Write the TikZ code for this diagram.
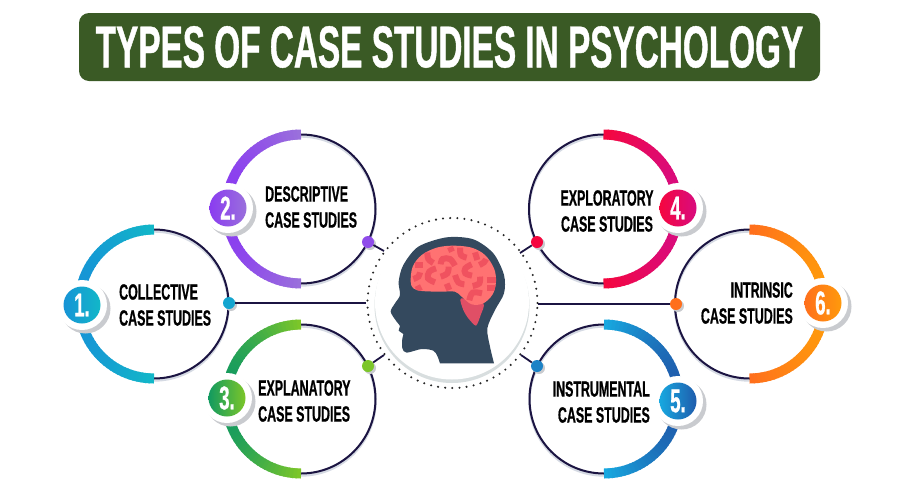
\documentclass[tikz,border=0pt]{standalone}
\usepackage{fontspec}
\newfontfamily\bebas[FakeStretch=0.565,FakeBold=0.7,UprightFont=* Bold]{Liberation Sans}
\definecolor{titlegreen}{HTML}{3A5A25}
\definecolor{ink}{HTML}{1B1442}
\definecolor{ringshadow}{HTML}{D5DAE3}
\definecolor{badgeshadow}{HTML}{C9CBCF}
\definecolor{headblue}{HTML}{34495E}
\definecolor{brainred}{HTML}{FF7272}
\definecolor{braindark}{HTML}{F0525F}
\definecolor{cerebel}{HTML}{E04F66}
\definecolor{crescent}{HTML}{D8DEDF}
\definecolor{aA}{HTML}{12B7C8}\definecolor{aB}{HTML}{1694D6}
\definecolor{bA}{HTML}{9A70DC}\definecolor{bB}{HTML}{8A3CF0}
\definecolor{cA}{HTML}{7CC629}\definecolor{cB}{HTML}{129A60}
\definecolor{dA}{HTML}{F5063F}\definecolor{dB}{HTML}{D80C7F}
\definecolor{eA}{HTML}{17A8E0}\definecolor{eB}{HTML}{1F5CAC}
\definecolor{fA}{HTML}{FF6F1C}\definecolor{fB}{HTML}{FF9A0C}
\tikzset{
  ringnode/.style={circle,draw=ink,line width=2pt,minimum size=149pt,inner sep=0pt},
  ringshade/.style={circle,draw=ringshadow,line width=2.4pt,minimum size=149pt,inner sep=0pt},
  badgenode/.style={circle,minimum size=37pt,inner sep=0pt,text=white,font=\bebas\fontsize{33}{33}\selectfont},
  dotnode/.style={circle,minimum size=12pt,inner sep=0pt},
  label/.style={inner sep=0pt,text=black,font=\bebas\fontsize{22}{26}\selectfont},
  conn/.style={draw=ink,line width=1.8pt},
  squiggle/.style={draw=braindark,line width=6pt}
}
\newcommand{\sqg}[1]{\draw[squiggle] plot[smooth,tension=0.6] coordinates {#1};}
% #1 cx, #2 cy, #3 from angle, #4 to angle, #5 start colour, #6 end colour
\newcommand{\gradarc}[6]{%
  \begin{scope}[shift={(#1,#2)}]
  \foreach \i in {0,...,29}{%
    \pgfmathsetmacro\angA{#3+(#4-#3)*\i/30}%
    \pgfmathsetmacro\angB{#3+(#4-#3)*(\i+1.3)/30}%
    \pgfmathsetmacro\tmix{100*sin(90*\i/29)}%
    \draw[line width=10pt,color={#6!\tmix!#5}] (\angA:74.5) -- (\angB:74.5);
  }
  \end{scope}}
% #1 id, #2 cx, #3 cy, #4 badge x, #5 badge y, #6 colour start, #7 colour end, #8 side angle, #9 digit
\newcommand{\casering}[9]{%
  \node[ringshade] at (#2,#3+2) {};
  \node[ringnode] (ring#1) at (#2,#3) {};
  \gradarc{#2}{#3}{270}{#8}{#6}{#7}
  \pgfmathsetmacro\lowend{mod(#8,360)}%
  \gradarc{#2}{#3}{90}{\lowend}{#6}{#7}
  \fill[badgeshadow] (#4+3.5,#5+3.5) circle[radius=25pt];
  \fill[white] (#4,#5) circle[radius=25pt];
  \node[badgenode,left color=#7,right color=#6,shading angle=#8-90] (badge#1) at (#4,#5) {#9};}
\newcommand{\ringdot}[4]{%
  \fill[badgeshadow] (#2+2,#3+2) circle[radius=6pt];
  \node[dotnode,fill=#4] (dot#1) at (#2,#3) {};}
\begin{document}
\begin{tikzpicture}[x=1pt,y=-1pt]
\useasboundingbox (0,0) rectangle (900,501);
\fill[white] (0,0) rectangle (900,501);
% title
\node[fill=titlegreen,rounded corners=10pt,minimum width=741pt,minimum height=68pt,inner sep=0pt,
      text=white,font=\bebas\fontsize{59}{59}\selectfont] (title) at (449.5,47) {TYPES OF CASE STUDIES IN PSYCHOLOGY};
% hub
\fill[crescent] (452,305.5) circle[radius=77.5pt];
\fill[white] (452,302.5) circle[radius=77pt];
\draw[black!85,line width=2.3pt,line cap=round,dash pattern=on 0pt off 7.15pt] (452.5,303) circle[radius=85pt];
% head
\begin{scope}[shift={(350,200)},x=0.33333pt,y=-0.33333pt]
\fill[headblue] (432,490) -- (270,490) -- plot[smooth,tension=0.5] coordinates {(270,490)(262,468)(250,452)(215,447)(170,458)(157,445)(157,415)(160,402)(146,392)(150,378)(140,365)(122,335)(135,310)(150,285)(146,245)(160,195)(205,140)(290,112)(370,118)(430,160)(462,225)(462,280)(435,330)(412,385)(420,440)(432,490)} -- cycle;
\end{scope}
\begin{scope}[shift={(400,235)},x=0.33333pt,y=-0.33333pt]
\fill[cerebel] plot[smooth cycle,tension=0.4] coordinates {(183,190)(250,205)(242,240)(228,272)(205,250)(190,225)};
\begin{scope}
\clip plot[smooth cycle,tension=0.55] coordinates {(32,140)(38,95)(65,60)(110,38)(160,32)(215,38)(255,60)(282,100)(288,140)(278,178)(250,205)(215,208)(185,185)(165,170)(120,170)(65,168)(40,160)};
\fill[brainred] (0,0) rectangle (320,240);
\sqg{(82,52)(85,72)(100,84)}
\sqg{(122,88)(128,72)(150,72)(165,92)}
\sqg{(108,100)(88,110)(84,130)(105,142)}
\sqg{(146,95)(142,115)(122,125)}
\sqg{(60,112)(55,125)(40,132)}
\sqg{(180,38)(183,60)(200,68)}
\sqg{(225,52)(232,75)}
\sqg{(215,88)(196,100)(196,115)(216,122)}
\sqg{(165,120)(175,142)(193,148)}
\sqg{(240,125)(238,145)(218,153)}
\sqg{(238,90)(252,82)(258,72)}
\sqg{(246,175)(218,173)(208,196)}
\sqg{(140,146)(148,165)}
\sqg{(52,152)(60,168)}
\sqg{(150,36)(156,50)}
\draw[squiggle] (45,90) -- (70,90);
\draw[squiggle] (262,135) -- (290,135);
\draw[squiggle] (262,160) -- (290,160);
\end{scope}
\end{scope}
% rings
\casering{1}{154}{304}{82}{305}{aA}{aB}{180}{1.}
\casering{2}{301}{209}{228}{208}{bA}{bB}{180}{2.}
\casering{3}{301}{399}{227}{398}{cA}{cB}{180}{3.}
\casering{6}{749.5}{304}{823}{303}{fA}{fB}{360}{6.}
\casering{4}{603.5}{209}{678}{208}{dA}{dB}{360}{4.}
\casering{5}{604}{399}{678}{401}{eA}{eB}{360}{5.}
% dots
\ringdot{1}{229}{303}{aA!50!aB}
\ringdot{2}{368}{242}{bB!70!bA}
\ringdot{3}{368}{366}{cA}
\ringdot{4}{537}{242}{dA}
\ringdot{5}{537}{366}{eA!50!eB}
\ringdot{6}{676}{304}{fA}
% connectors
\coordinate (end1) at (366,303);
\coordinate (end2) at (384,251);
\coordinate (end3) at (384,355);
\coordinate (end4) at (520,253);
\coordinate (end5) at (521,355);
\coordinate (end6) at (538,304);
\foreach \k in {1,...,6}{\draw[conn] (dot\k) -- (end\k);}
% labels
\node[label,align=left,anchor=west] (t1) at (119,305) {COLLECTIVE\\CASE STUDIES};
\node[label,align=left,anchor=west] (t2) at (265,207) {DESCRIPTIVE\\CASE STUDIES};
\node[label,align=left,anchor=west] (t3) at (258,401) {EXPLANATORY\\CASE STUDIES};
\node[label,align=center] (t4) at (607,211) {EXPLORATORY\\CASE STUDIES};
\node[label,align=right,anchor=east] (t5) at (650,402) {INSTRUMENTAL\\CASE STUDIES};
\node[label,align=right,anchor=east] (t6) at (793,303) {INTRINSIC\\CASE STUDIES};
\end{tikzpicture}
\end{document}
